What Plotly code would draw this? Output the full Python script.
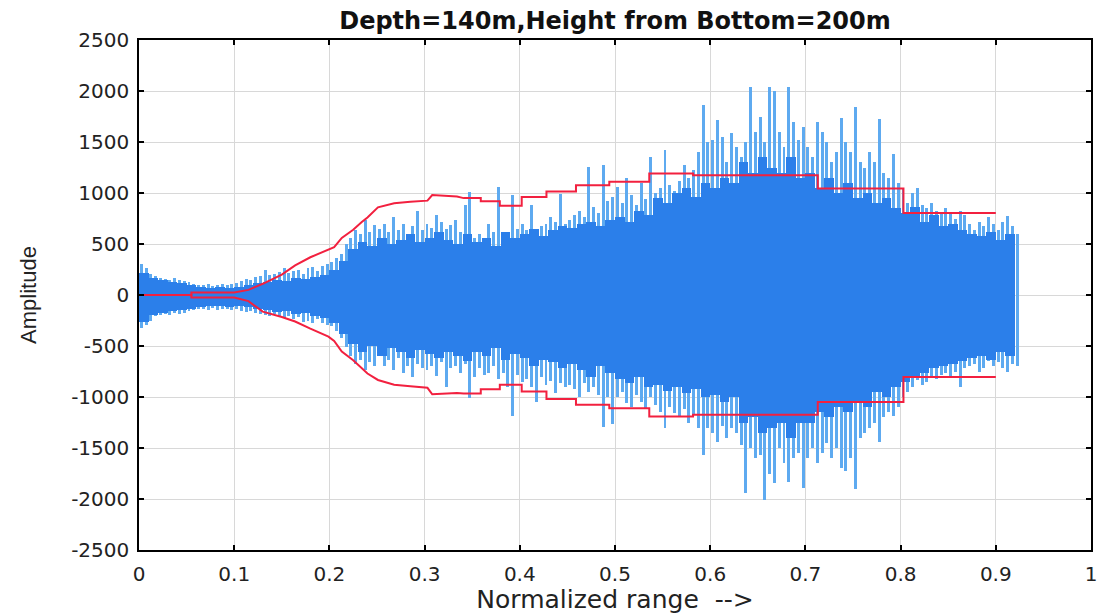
import plotly.graph_objects as go

# ---- signal: peak readings per 0.005 range bin (upper / lower extremes) ----
bin_width = 0.005
peak_upper = [
    300, 260, 210, 190, 170, 160, 150, 170, 150, 140,
    130, 110, 100, 95, 110, 90, 100, 105, 95, 110,
    120, 140, 160, 150, 175, 190, 245, 200, 210, 230,
    260, 220, 240, 250, 210, 260, 270, 240, 280, 300,
    320, 360, 400, 500, 560, 640, 600, 735, 620, 690,
    650, 700, 620, 760, 640, 700, 590, 680, 820, 640,
    700, 660, 780, 720, 650, 690, 740, 620, 880, 1010,
    560, 600, 520, 700, 620, 1060, 580, 620, 980, 650,
    700, 640, 880, 620, 680, 700, 760, 720, 990, 700,
    740, 780, 820, 760, 1257, 860, 800, 1275, 920, 960,
    1060, 900, 1150, 980, 880, 1100, 940, 1355, 1000, 1050,
    1420, 1080, 1020, 1120, 1275, 1150, 1230, 1400, 1860, 1500,
    1520, 1715, 1550, 1300, 1590, 1450, 1350, 1500, 2040, 1600,
    1750, 1500, 2040, 2000, 1600, 1450, 2040, 1700, 1520, 1650,
    1450, 1350, 1700, 1600, 1500, 1300, 1400, 1735, 1500, 1400,
    1845, 1300, 1250, 1400, 1300, 1725, 1200, 1150, 1380, 1100,
    1050, 900, 1000, 1050, 880, 850, 900, 820, 800, 850,
    800, 750, 820, 780, 700, 640, 720, 680, 760, 700,
    640, 720, 770, 680, 600,
]
peak_lower = [
    -320, -290, -250, -210, -200, -190, -200, -180, -190, -175,
    -160, -150, -140, -135, -150, -130, -145, -140, -135, -150,
    -140, -155, -170, -160, -180, -190, -200, -210, -185, -220,
    -230, -210, -240, -220, -260, -250, -275, -240, -270, -290,
    -300, -350, -420, -510, -600, -680, -640, -735, -660, -700,
    -600, -700, -640, -740, -620, -760, -700, -800, -680, -720,
    -740, -700, -790, -660, -900, -720, -700, -760, -680, -1010,
    -800, -720, -780, -760, -700, -820, -760, -900, -1190, -780,
    -850, -820, -900, -1045, -800, -880, -840, -960, -860, -900,
    -880, -920, -1000, -860, -950, -900, -980, -1290, -1000, -1260,
    -1000, -950, -1060, -1100, -980, -1050, -1120, -1000, -1080, -1150,
    -1305, -1100, -1160, -1200, -1120, -1250, -1180, -1300, -1570, -1300,
    -1350, -1440, -1280, -1400, -1300, -1350, -1470, -1945, -1500, -1600,
    -1570, -2010, -1750, -1840, -1500, -1650, -1830, -1600, -1550, -1890,
    -1600, -1500, -1650, -1550, -1450, -1600, -1500, -1700, -1730, -1600,
    -1900, -1400, -1350, -1300, -1250, -1440, -1200, -1150, -1190, -1100,
    -1000, -950, -900, -830, -880, -850, -800, -820, -780, -760,
    -800, -750, -900, -720, -700, -680, -750, -720, -650, -700,
    -660, -720, -750, -680, -700,
]

# ---- dense body of the signal, readings per 0.01 range bin ----
core_bin = 0.01
core_upper = [
    220, 170, 150, 130, 120, 100, 80, 70, 75, 70,
    80, 100, 120, 130, 150, 140, 170, 160, 180, 200,
    250, 330, 450, 520, 480, 560, 500, 540, 600, 520,
    560, 620, 540, 500, 600, 520, 560, 480, 620, 560,
    600, 650, 580, 640, 680, 660, 700, 720, 680, 740,
    760, 720, 820, 780, 950, 900, 1000, 1050, 960, 1100,
    1050, 1150, 1100, 1300, 1200, 1350, 1250, 1200, 1350, 1150,
    1200, 1050, 1150, 1000, 1100, 950, 1000, 900, 950, 850,
    800, 860, 720, 780, 680, 700, 640, 600, 580, 620,
    540, 600,
]
core_lower = [
    -260, -200, -180, -160, -150, -140, -120, -110, -110, -115,
    -110, -120, -140, -150, -170, -160, -190, -180, -210, -230,
    -270, -380, -480, -560, -500, -600, -520, -560, -620, -540,
    -580, -620, -560, -600, -650, -560, -600, -520, -640, -580,
    -620, -700, -640, -660, -720, -680, -740, -800, -700, -760,
    -820, -860, -800, -900, -880, -940, -900, -960, -920, -1000,
    -980, -1050, -1000, -1250, -1200, -1350, -1300, -1250, -1400, -1250,
    -1250, -1150, -1200, -1100, -1150, -1050, -1100, -950, -1000, -900,
    -850, -800, -760, -720, -700, -680, -650, -620, -600, -640,
    -560, -600,
]

# ---- envelope (red) ----
env_x = [0, 0.055, 0.055, 0.1, 0.115, 0.13, 0.15, 0.164, 0.18, 0.199, 0.205,
         0.213, 0.225, 0.234, 0.24, 0.251, 0.26, 0.268, 0.285, 0.303, 0.308,
         0.334, 0.341, 0.359, 0.359, 0.379, 0.379, 0.402, 0.402, 0.428, 0.428,
         0.459, 0.459, 0.494, 0.494, 0.536, 0.536, 0.582, 0.582, 0.713, 0.713,
         0.803, 0.803, 0.9]
env_upper = [0, 0, 25, 25, 50, 110, 200, 290, 370, 440, 470,
             560, 640, 715, 760, 860, 885, 900, 915, 925, 980,
             965, 950, 950, 920, 920, 875, 875, 960, 960, 1015,
             1015, 1075, 1075, 1110, 1110, 1190, 1190, 1175, 1175, 1045,
             1045, 805, 805]
env_lower = [0, 0, -25, -25, -60, -163, -215, -260, -330, -408, -450,
             -555, -640, -715, -770, -833, -860, -880, -895, -910, -973,
             -960, -965, -965, -925, -925, -880, -880, -945, -945, -1020,
             -1020, -1075, -1075, -1110, -1110, -1190, -1190, -1175, -1175, -1050,
             -1050, -805, -805]

x_ticks = [0, 0.1, 0.2, 0.3, 0.4, 0.5, 0.6, 0.7, 0.8, 0.9, 1]
x_tick_text = ["0", "0.1", "0.2", "0.3", "0.4", "0.5", "0.6", "0.7", "0.8", "0.9", "1"]
y_ticks = [-2500, -2000, -1500, -1000, -500, 0, 500, 1000, 1500, 2000, 2500]
y_tick_text = ["-2500", "-2000", "-1500", "-1000", "-500", "0", "500", "1000", "1500", "2000", "2500"]

peak_x = [i * bin_width + bin_width / 2 for i in range(len(peak_upper))]
core_x = [i * core_bin + core_bin / 2 for i in range(len(core_upper))]

fig = go.Figure()
# thin lighter strokes reaching the peaks
fig.add_trace(go.Bar(x=peak_x, base=peak_lower,
                     y=[hi - lo for hi, lo in zip(peak_upper, peak_lower)],
                     width=bin_width * 0.62, marker=dict(color="#5eaaf0", line_width=0),
                     hoverinfo="skip"))
# solid body
fig.add_trace(go.Bar(x=core_x, base=core_lower,
                     y=[hi - lo for hi, lo in zip(core_upper, core_lower)],
                     width=core_bin, marker=dict(color="#2b7fea", line_width=0),
                     hoverinfo="skip"))
fig.add_trace(go.Scatter(x=env_x, y=env_upper, mode="lines",
                         line=dict(color="#f2203f", width=2)))
fig.add_trace(go.Scatter(x=env_x, y=env_lower, mode="lines",
                         line=dict(color="#f2203f", width=2)))

axis_font = dict(family="DejaVu Sans", size=20, color="#222222")
fig.update_layout(
    width=1104, height=614,
    margin=dict(l=139, r=7, t=40, b=64),
    paper_bgcolor="white", plot_bgcolor="white",
    showlegend=False, barmode="overlay", bargap=0,
    title=dict(text="<b>Depth=140m,Height from Bottom=200m</b>",
               x=0.5, xref="paper", xanchor="center",
               y=0.967, yref="container", yanchor="middle",
               font=dict(family="DejaVu Sans", size=24, color="#111111")),
    xaxis=dict(range=[0, 1], tickvals=x_ticks, ticktext=x_tick_text,
               showgrid=True, gridcolor="#d8d8d8", gridwidth=1,
               showline=True, linecolor="black", linewidth=1.5, mirror="ticks",
               ticks="inside", ticklen=5, tickcolor="black", tickwidth=1.5,
               tickfont=axis_font, zeroline=False, ticklabelstandoff=5,
               title=dict(text="Normalized range  -->", standoff=4,
                          font=dict(family="DejaVu Sans", size=25, color="#222222"))),
    yaxis=dict(range=[-2500, 2500], tickvals=y_ticks, ticktext=y_tick_text,
               showgrid=True, gridcolor="#d8d8d8", gridwidth=1,
               showline=True, linecolor="black", linewidth=1.5, mirror="ticks",
               ticks="inside", ticklen=5, tickcolor="black", tickwidth=1.5,
               tickfont=axis_font, zeroline=False, ticklabelstandoff=4,
               title=dict(text="Amplitude", standoff=28,
                          font=dict(family="Liberation Sans", size=22, color="#222222"))),
)

fig.write_html("out.html")
